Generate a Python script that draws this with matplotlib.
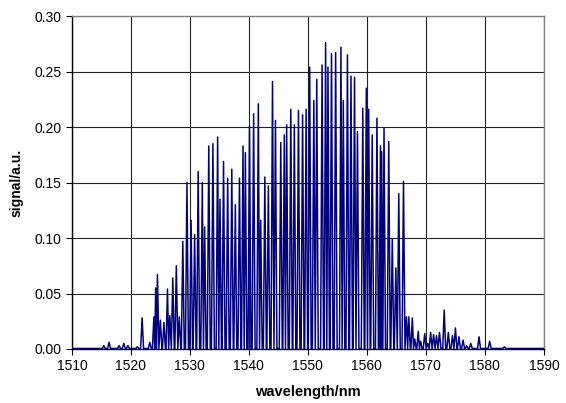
import numpy as np
import matplotlib.pyplot as plt

# peak positions (nm) and peak heights (a.u.)
peak_nm = [1515.4, 1516.3, 1518.0, 1518.8, 1519.5, 1521.1, 1521.9,
           1523.2, 1523.9, 1524.2, 1524.5, 1525.0, 1525.6, 1526.2, 1526.6,
           1527.1, 1527.7, 1528.2, 1528.8, 1529.5, 1530.2, 1530.8, 1531.4,
           1532.1, 1532.5, 1533.2, 1533.9, 1534.7, 1535.1, 1535.7, 1536.4,
           1537.1, 1537.7, 1538.4, 1539.0, 1539.4, 1540.1, 1540.8, 1541.6,
           1542.0, 1542.7, 1543.3, 1544.0, 1544.5, 1545.4, 1546.0, 1546.4,
           1547.1, 1547.7, 1548.4, 1549.1, 1549.7, 1550.3, 1551.0, 1551.5,
           1552.4, 1553.0, 1553.4, 1554.0, 1554.7, 1555.6, 1556.0, 1556.7,
           1557.3, 1557.9, 1558.4, 1559.3, 1559.9, 1560.3, 1560.9, 1561.7,
           1562.3, 1562.5, 1562.9, 1563.7, 1564.3, 1564.9, 1565.4, 1566.2,
           1566.7, 1567.1, 1567.7, 1568.1, 1568.7, 1569.1, 1569.8, 1570.3,
           1570.8, 1571.3, 1571.8, 1572.3, 1573.1, 1573.8, 1574.5, 1575.0,
           1575.6, 1576.3, 1576.9, 1577.6, 1579.0, 1580.8, 1583.3]
peak_val = [0.003, 0.006, 0.003, 0.005, 0.003, 0.002, 0.028,
            0.006, 0.029, 0.055, 0.067, 0.026, 0.024, 0.054, 0.030,
            0.064, 0.075, 0.029, 0.097, 0.150, 0.116, 0.103, 0.160,
            0.150, 0.110, 0.183, 0.185, 0.191, 0.135, 0.169, 0.154,
            0.162, 0.130, 0.154, 0.183, 0.177, 0.201, 0.212, 0.221,
            0.116, 0.155, 0.147, 0.241, 0.206, 0.186, 0.193, 0.202,
            0.216, 0.202, 0.215, 0.211, 0.216, 0.254, 0.224, 0.243,
            0.256, 0.276, 0.254, 0.266, 0.267, 0.272, 0.224, 0.265,
            0.246, 0.245, 0.196, 0.217, 0.235, 0.216, 0.193, 0.208,
            0.183, 0.178, 0.199, 0.187, 0.099, 0.073, 0.140, 0.151,
            0.029, 0.029, 0.028, 0.009, 0.016, 0.007, 0.014, 0.005,
            0.015, 0.013, 0.012, 0.015, 0.035, 0.015, 0.012, 0.019,
            0.011, 0.008, 0.003, 0.005, 0.011, 0.007, 0.002]

# build the trace: each peak rises from the baseline and falls back,
# valleys sit halfway to the neighbouring peak (at most 0.25 nm away)
max_w = 0.25
base = 0.0005
x = [1510.0]
y = [base]
pk = np.array(peak_nm)
for i, (p, v) in enumerate(zip(peak_nm, peak_val)):
    left = min(max_w, (p - pk[i - 1]) / 2) if i > 0 else max_w
    right = min(max_w, (pk[i + 1] - p) / 2) if i < len(pk) - 1 else max_w
    x += [p - left, p, p + right]
    y += [base, v, base]
x.append(1590.0)
y.append(base)

plt.rcParams['font.family'] = ['Liberation Sans', 'DejaVu Sans']

fig = plt.figure(figsize=(5.66, 4.03), dpi=100)
ax = fig.add_axes([0.127, 0.134, 0.834, 0.826])

ax.plot(x, y, color='#000080', lw=1.1)

ax.set_xlim(1510, 1590)
ax.set_ylim(0, 0.30)
ax.set_xticks(np.arange(1510, 1591, 10))
ax.set_yticks(np.arange(0, 0.301, 0.05))
ax.set_yticklabels(['%.2f' % v for v in np.arange(0, 0.301, 0.05)])
ax.grid(True, color='#222222', lw=0.8)
ax.set_axisbelow(True)
for s in ax.spines.values():
    s.set_color('#808080')
    s.set_linewidth(1.0)
ax.spines['left'].set_color('black')
ax.spines['bottom'].set_color('black')
ax.tick_params(labelsize=10, length=4, width=0.8)

ax.set_xlabel('wavelength/nm', fontsize=10.5, fontweight='bold', labelpad=8)
ax.set_ylabel('signal/a.u.', fontsize=10, fontweight='bold', labelpad=8)

fig.savefig('out.png', dpi=100)
